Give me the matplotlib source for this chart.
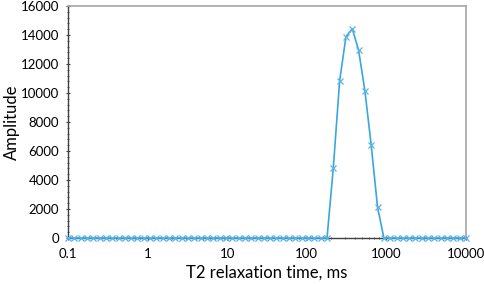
import numpy as np
import matplotlib.pyplot as plt
from matplotlib.ticker import MultipleLocator, LogLocator, NullFormatter, FixedLocator

plt.rcParams['font.family'] = ['Lato', 'DejaVu Sans']

# T2 distribution: 64 log-spaced relaxation times from 0.1 to 10000 ms
t2_ms = np.logspace(-1, 4, 64)
amplitude = np.zeros(64)
peak_index = [42, 43, 44, 45, 46, 47, 48, 49]
peak_values = [4850, 10850, 13880, 14430, 12950, 10150, 6380, 2120]
amplitude[peak_index] = peak_values

x_ticks = [0.1, 1, 10, 100, 1000, 10000]
x_tick_labels = ['0.1', '1', '10', '100', '1000', '10000']

fig = plt.figure(figsize=(4.84, 2.84), dpi=100)
ax = fig.add_axes([0.1405, 0.162, 0.8223, 0.817])

blue = '#3AA6DE'
ax.plot(t2_ms, amplitude, color=blue, lw=1.2, marker='x', ms=4.5, mew=0.9,
        mec='#5AB4E6', clip_on=False, zorder=3)

ax.set_xscale('log')
ax.set_xlim(0.1, 10000)
ax.set_ylim(0, 16000)
ax.xaxis.set_major_locator(FixedLocator(x_ticks))
ax.set_xticklabels(x_tick_labels)
ax.xaxis.set_minor_locator(LogLocator(base=10, subs=np.arange(2, 10)))
ax.xaxis.set_minor_formatter(NullFormatter())
ax.yaxis.set_major_locator(MultipleLocator(2000))
ax.yaxis.set_minor_locator(MultipleLocator(400))

for side in ['top', 'right']:
    ax.spines[side].set_color('#A6A6A6')
    ax.spines[side].set_linewidth(1.2)
for side in ['left', 'bottom']:
    ax.spines[side].set_color('#404040')
    ax.spines[side].set_linewidth(1.0)

ax.tick_params(axis='both', which='major', labelsize=9.5, length=3, color='#404040',
               direction='inout', pad=5)
ax.tick_params(axis='both', which='minor', length=2, color='#404040', direction='inout')
ax.tick_params(axis='x', pad=6)

ax.set_xlabel('T2 relaxation time, ms', fontsize=12)
ax.set_ylabel('Amplitude', fontsize=12)
ax.xaxis.set_label_coords(0.5, -0.115)
ax.yaxis.set_label_coords(-0.12, 0.5)

plt.savefig('out.png', dpi=100)
